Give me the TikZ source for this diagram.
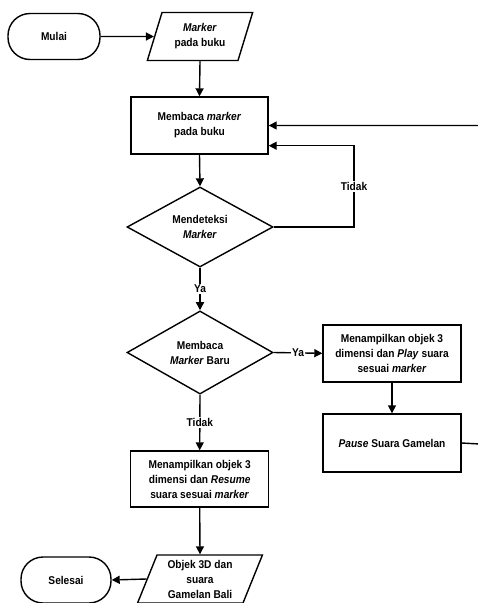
\documentclass[tikz,border=0pt]{standalone}
\usepackage{fontspec}
\setmainfont{Liberation Sans}[FakeStretch=0.9]
\usetikzlibrary{shapes.geometric,arrows.meta,calc}
\begin{document}
\begin{tikzpicture}[x=1pt,y=-1pt,
  every node/.style={font=\fontsize{11.3}{15}\selectfont\bfseries, align=center, inner sep=0pt},
  arr/.style={line width=1.4pt,-{Triangle[length=8pt,width=8pt]}},
  term/.style={draw,line width=1.4pt,rectangle,rounded corners=22pt,minimum width=#1,minimum height=46pt},
  proc/.style={draw,line width=1.4pt,rectangle,minimum width=138pt,minimum height=57pt},
  dec/.style={draw,line width=1.4pt,diamond,minimum width=146pt,minimum height=80pt},
  io/.style={draw,line width=1.4pt,trapezium,trapezium left angle=69,trapezium right angle=111,trapezium stretches=true,minimum width=#1,minimum height=48pt},
  lab/.style={fill=white,inner sep=1pt}
]
\useasboundingbox (0,0) rectangle (478,603);
\node[term=92pt] (mulai) at (54,36.5) {Mulai};
\node[io=106pt] (in) at (200,36.5) {\textit{Marker}\\pada buku};
\node[proc,minimum width=137pt] (r1) at (199.5,125.5) {Membaca \textit{marker}\\pada buku};
\node[dec] (d1) at (200,227) {Mendeteksi\\\textit{Marker}};
\node[dec,minimum height=81pt] (d2) at (200,352.5) {Membaca\\\textit{Marker} Baru};
\node[proc] (r2) at (392,353.3) {Menampilkan objek 3\\dimensi dan \textit{Play} suara\\sesuai \textit{marker}};
\node[proc,minimum height=58pt] (r3) at (392,443) {\textit{Pause} Suara Gamelan};
\node[proc,minimum height=56pt] (r4) at (199.7,479) {Menampilkan objek 3\\dimensi dan \textit{Resume}\\suara sesuai \textit{marker}};
\node[io=126pt] (out) at (200,579) {Objek 3D dan\\suara\\Gamelan Bali};
\node[term=90pt] (selesai) at (66,580) {Selesai};

\coordinate (loopT) at (354,145.7);
\coordinate (farR) at (479.5,444);

\draw[arr] (mulai.east) -- (in.west);
\draw[arr] (in.south) -- (r1.north);
\draw[arr] (r1.south) -- (d1.north);
\draw[arr] (d1.east) -| (loopT) node[lab,pos=0.75] {Tidak} -- ([yshift=-20.2pt]r1.east);
\draw[arr] (d1.south) -- node[lab] {Ya} (d2.north);
\draw[arr] (d2.east) -- node[lab] {Ya} (r2.west);
\draw[arr] (r2.south) -- (r3.north);
\draw[arr] (r3.east) -- (farR) |- (r1.east);
\draw[arr] (d2.south) -- node[lab] {Tidak} (r4.north);
\draw[arr] (r4.south) -- (out.north);
\draw[arr] (out.west) -- (selesai.east);
\end{tikzpicture}
\end{document}
